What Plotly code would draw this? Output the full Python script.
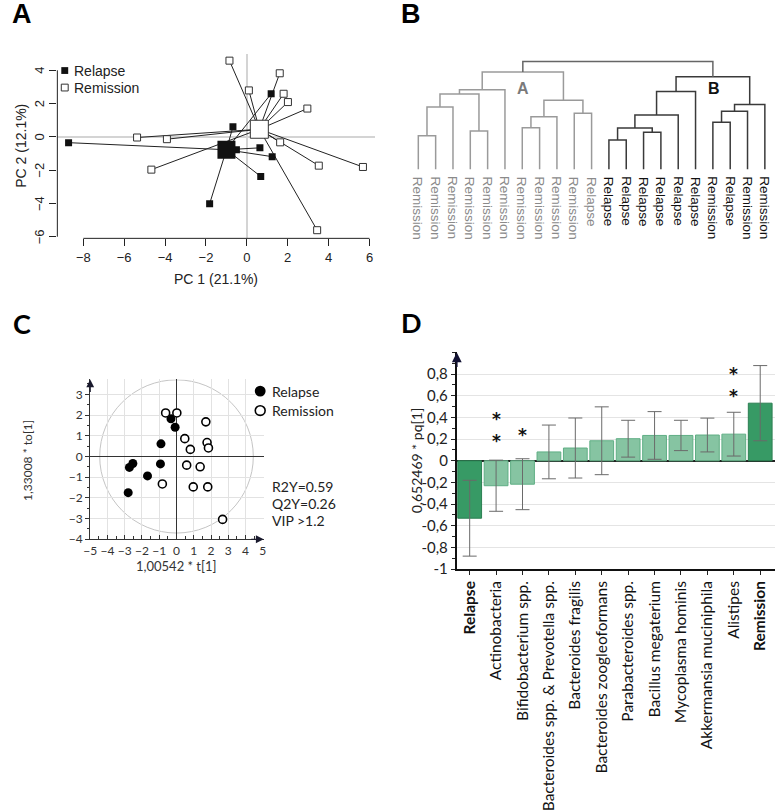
import plotly.graph_objects as go

W, H = 778, 811


def fx(px):
    return px / W


def fy(py):
    return 1 - py / H


SANS = "Liberation Sans, Arial, sans-serif"
CAL = "Lato, Open Sans, sans-serif"

# ---------------- Panel A : PCA spider plot ----------------
a_relapse_pc1 = [-8.72, -0.68, 1.19, 0.64, -0.51, 1.24, 0.68, -1.82]
a_relapse_pc2 = [-0.35, 0.60, 2.59, -0.66, -0.78, -1.19, -2.38, -4.02]
a_remission_pc1 = [-0.85, 1.61, 0.10, 1.80, 2.01, 2.96, -5.37, -3.91, 1.63, -4.67, 3.52, 5.68, 3.44]
a_remission_pc2 = [4.58, 3.82, 2.79, 2.59, 2.09, 1.70, -0.04, -0.14, -0.33, -1.97, -1.73, -1.81, -5.61]
a_xticks = [-8, -6, -4, -2, 0, 2, 4, 6]
a_yticks = [-6, -4, -2, 0, 2, 4]

# ---------------- Panel B : dendrogram ----------------
b_labels = ["Remission"] * 10 + ["Relapse"] * 7 + ["Remission", "Relapse", "Remission", "Remission"]
b_label_group = ["A"] * 11 + ["B"] * 10
# merges: (child a, child b, height, group)  -- clusters numbered from 21
b_linkage = [
    (0, 1, 10.4, "A"), (21, 2, 19.3, "A"), (3, 4, 11.9, "A"), (22, 23, 23.3, "A"),
    (24, 5, 24.6, "A"), (6, 7, 12.9, "A"), (26, 8, 16.3, "A"), (9, 10, 17.4, "A"),
    (27, 28, 21.4, "A"), (25, 29, 30.1, "A"),
    (11, 12, 9.1, "B"), (13, 14, 11.5, "B"), (31, 32, 12.8, "B"), (33, 15, 16.8, "B"),
    (34, 16, 24.1, "B"), (17, 18, 14.6, "B"), (36, 19, 18.0, "B"), (37, 20, 20.1, "B"),
    (35, 38, 28.6, "B"), (30, 39, 33.3, "R"),
]

# ---------------- Panel C : OPLS-DA score plot ----------------
c_relapse_t = [-0.32, -0.08, -0.90, -0.93, -2.53, -2.73, -1.68, -2.80]
c_relapse_to = [1.82, 1.41, 0.61, -0.36, -0.34, -0.53, -0.94, -1.75]
c_remission_t = [-0.63, 0.02, 1.70, 0.48, 1.77, 1.85, 0.80, 0.59, 1.37, -0.82, 0.97, 1.81, 2.67]
c_remission_to = [2.10, 2.10, 1.67, 0.86, 0.67, 0.41, 0.34, -0.42, -0.50, -1.33, -1.47, -1.47, -3.04]
c_ellipse_rx, c_ellipse_ry = 4.45, 3.70
c_stats = ["R2Y=0.59", "Q2Y=0.26", "VIP >1.2"]

# ---------------- Panel D : loadings bar chart ----------------
d_categories = ["Relapse", "Actinobacteria", "Bifidobacterium spp.",
                "Bacteroides spp. & Prevotella spp.", "Bacteroides fragilis",
                "Bacteroides zoogleoformans", "Parabacteroides spp.", "Bacillus megaterium",
                "Mycoplasma hominis", "Akkermansia muciniphila", "Alistipes", "Remission"]
d_values = [-0.53, -0.23, -0.216, 0.082, 0.118, 0.185, 0.204, 0.234, 0.234, 0.238, 0.246, 0.532]
d_errors = [0.35, 0.236, 0.235, 0.248, 0.277, 0.313, 0.17, 0.22, 0.14, 0.156, 0.202, 0.347]
d_is_class = [True] + [False] * 10 + [True]
d_stars = {"Actinobacteria": ("*<br>*", 0.28), "Bifidobacterium spp.": ("*", 0.24),
           "Alistipes": ("*<br>*", 0.70)}
d_yticks = [-1, -0.8, -0.6, -0.4, -0.2, 0, 0.2, 0.4, 0.6, 0.8]
d_yticktext = [("%g" % v).replace(".", ",") for v in d_yticks]

fig = go.Figure()
shapes = []
ann = []


def ptext(text, x, y, size, family, color="#222", xanchor="center", yanchor="middle", angle=0):
    ann.append(dict(text=text, x=fx(x), y=fy(y), xref="paper", yref="paper", xanchor=xanchor,
                    yanchor=yanchor, textangle=angle, showarrow=False,
                    font=dict(family=family, size=size, color=color)))


# ---- Panel A traces ----
cx_rel = sum(a_relapse_pc1) / len(a_relapse_pc1)
cy_rel = sum(a_relapse_pc2) / len(a_relapse_pc2)
cx_rem = sum(a_remission_pc1) / len(a_remission_pc1)
cy_rem = sum(a_remission_pc2) / len(a_remission_pc2)
lx, ly = [], []
for x, y in zip(a_relapse_pc1, a_relapse_pc2):
    lx += [cx_rel, x, None]
    ly += [cy_rel, y, None]
for x, y in zip(a_remission_pc1, a_remission_pc2):
    lx += [cx_rem, x, None]
    ly += [cy_rem, y, None]
fig.add_trace(go.Scatter(x=lx, y=ly, mode="lines", line=dict(color="#222", width=1),
                         xaxis="x", yaxis="y", showlegend=False, hoverinfo="skip"))
fig.add_trace(go.Scatter(x=a_relapse_pc1, y=a_relapse_pc2, mode="markers",
                         marker=dict(symbol="square", size=7, color="#111", line=dict(width=0)),
                         xaxis="x", yaxis="y", showlegend=False))
fig.add_trace(go.Scatter(x=a_remission_pc1, y=a_remission_pc2, mode="markers",
                         marker=dict(symbol="square", size=7, color="white", line=dict(width=1, color="#333")),
                         xaxis="x", yaxis="y", showlegend=False))
fig.add_trace(go.Scatter(x=[cx_rel], y=[cy_rel], mode="markers",
                         marker=dict(symbol="square", size=18, color="#111", line=dict(width=0)),
                         xaxis="x", yaxis="y", showlegend=False))
fig.add_trace(go.Scatter(x=[cx_rem], y=[cy_rem], mode="markers",
                         marker=dict(symbol="square", size=18, color="white", line=dict(width=1, color="#333")),
                         xaxis="x", yaxis="y", showlegend=False))
shapes.append(dict(type="line", xref="x", yref="y domain", x0=min(a_xticks), x1=max(a_xticks),
                   y0=0, y1=0, line=dict(color="#222", width=1)))
shapes.append(dict(type="line", xref="x domain", yref="y", x0=0, x1=0, y0=min(a_yticks),
                   y1=max(a_yticks), line=dict(color="#222", width=1)))
for v in a_yticks:
    ann.append(dict(text=str(v).replace("-", "\u2212"), x=fx(33), y=v, xref="paper", yref="y",
                    xanchor="center", yanchor="middle", textangle=-90, showarrow=False,
                    font=dict(family=SANS, size=13, color="#222")))
# legend A
shapes.append(dict(type="rect", xref="paper", yref="paper", x0=fx(55), x1=fx(62), y0=fy(76), y1=fy(69),
                   fillcolor="#111", line=dict(width=0)))
shapes.append(dict(type="rect", xref="paper", yref="paper", x0=fx(55), x1=fx(62), y0=fy(93.5), y1=fy(86.5),
                   fillcolor="white", line=dict(width=1, color="#333")))
ptext("Relapse", 66, 72.5, 14, SANS, xanchor="left")
ptext("Remission", 66, 90, 14, SANS, xanchor="left")
ptext("PC 1 (21.1%)", 212, 287, 14, SANS)
ptext("PC 2 (12.1%)", 14, 150, 14, SANS, angle=-90)

# ---- Panel B dendrogram ----
pos = {i: (float(i), 0.0) for i in range(len(b_labels))}
seg = {"A": ([], []), "B": ([], []), "R": ([], [])}
for k, (a, b, h, g) in enumerate(b_linkage):
    xa, ha = pos[a]
    xb, hb = pos[b]
    seg[g][0].extend([xa, xa, xb, xb, None])
    seg[g][1].extend([ha, h, h, hb, None])
    pos[len(b_labels) + k] = ((xa + xb) / 2, h)
seg_colors = {"A": "#9a9a9a", "B": "#3a3a3a", "R": "#666666"}
for g in ["A", "B", "R"]:
    fig.add_trace(go.Scatter(x=seg[g][0], y=seg[g][1], mode="lines",
                             line=dict(color=seg_colors[g], width=1.5),
                             xaxis="x2", yaxis="y2", showlegend=False, hoverinfo="skip"))
for i, (lab, g) in enumerate(zip(b_labels, b_label_group)):
    ann.append(dict(text=lab, x=i, y=0, xref="x2", yref="y2", textangle=90, xanchor="center",
                    yanchor="top", yshift=-5, showarrow=False,
                    font=dict(family=SANS, size=13.5, color="#8a8a8a" if g == "A" else "#111")))
ptext("<b>A</b>", 523, 91, 16, SANS, color="#7a7a7a")
ptext("<b>B</b>", 716, 91, 16, SANS, color="#111")

# ---- Panel C ----
shapes.append(dict(type="circle", xref="x3", yref="y3", x0=-c_ellipse_rx, x1=c_ellipse_rx,
                   y0=-c_ellipse_ry, y1=c_ellipse_ry, line=dict(color="#c4c4c4", width=1), layer="below"))
fig.add_trace(go.Scatter(x=c_relapse_t, y=c_relapse_to, mode="markers",
                         marker=dict(symbol="circle", size=9, color="#000", line=dict(width=0)),
                         xaxis="x3", yaxis="y3", showlegend=False))
fig.add_trace(go.Scatter(x=c_remission_t, y=c_remission_to, mode="markers",
                         marker=dict(symbol="circle", size=8, color="white", line=dict(width=1.6, color="#000")),
                         xaxis="x3", yaxis="y3", showlegend=False))
shapes.append(dict(type="circle", xref="paper", yref="paper", x0=fx(251), x1=fx(262), y0=fy(407.5), y1=fy(396.5),
                   fillcolor="#000", line=dict(width=0)))
shapes.append(dict(type="circle", xref="paper", yref="paper", x0=fx(251.5), x1=fx(261.5), y0=fy(427), y1=fy(417),
                   fillcolor="white", line=dict(width=1.6, color="#000")))
ptext("Relapse", 266, 402, 14, CAL, xanchor="left")
ptext("Remission", 266, 422, 14, CAL, xanchor="left")
for i, s in enumerate(c_stats):
    ptext(s, 266, 500 + 17.5 * i, 14, CAL, xanchor="left")
ptext("1,00542 * t[1]", 172, 582, 13, CAL, color="#333")
ptext("1,33008 * to[1]", 20, 473, 12, CAL, color="#333", angle=-90)
# axis arrows
ann.append(dict(x=0, y=1, xref="x3 domain", yref="y3 domain", ax=0, ay=14, text="", showarrow=True,
                arrowhead=2, arrowsize=1.3, arrowwidth=1.2, arrowcolor="#1a1a2e", standoff=0))
ann.append(dict(x=1, y=0, xref="x3 domain", yref="y3 domain", ax=-14, ay=0, text="", showarrow=True,
                arrowhead=2, arrowsize=1.3, arrowwidth=1.2, arrowcolor="#1a1a2e", standoff=0))

# ---- Panel D ----
dark_fill, light_fill = "#379a65", "#86c4a2"
dark_line, light_line = "#2b7f52", "#5fae84"
fig.add_trace(go.Bar(x=d_categories, y=d_values,
                     error_y=dict(type="data", array=d_errors, color="#6a6a6a", thickness=1, width=7),
                     marker=dict(color=[dark_fill if c else light_fill for c in d_is_class],
                                 line=dict(color=[dark_line if c else light_line for c in d_is_class], width=1)),
                     width=0.9, xaxis="x4", yaxis="y4", showlegend=False))
for cat, (txt, yv) in d_stars.items():
    ann.append(dict(text="<b>%s</b>" % txt, x=cat, y=yv, xref="x4", yref="y4", showarrow=False,
                    yanchor="middle", xanchor="center",
                    font=dict(family="DejaVu Sans", size=17, color="#111")))
ann.append(dict(x=0, y=1, xref="x4 domain", yref="y4 domain", ax=0, ay=16, text="", showarrow=True,
                arrowhead=2, arrowsize=1.3, arrowwidth=1.5, arrowcolor="#111133", standoff=0))
ptext("0,652469 * pq[1]", 415, 473.5, 14, CAL, angle=-90)

# panel letters
for t, x, y, fam in [("A", 15, 14, SANS), ("B", 409, 14, SANS), ("C", 15, 333, CAL), ("D", 410, 331, CAL)]:
    ptext("<b>%s</b>" % t, x, y, 27, fam, color="#000")

d_ticktext = ["<b>%s</b>" % c if cls else c for c, cls in zip(d_categories, d_is_class)]

fig.update_layout(
    width=W, height=H, margin=dict(l=0, r=0, t=0, b=0),
    paper_bgcolor="white", plot_bgcolor="rgba(0,0,0,0)",
    showlegend=False, bargap=0.1,
    xaxis=dict(domain=[fx(51), fx(373)], range=[-9.27, 6.28], anchor="y",
               tickvals=a_xticks, ticks="outside", ticklen=7, tickcolor="#222",
               tickfont=dict(family=SANS, size=13, color="#222"), showgrid=False,
               zeroline=True, zerolinecolor="#d4d4d4", zerolinewidth=1.5, showline=False),
    yaxis=dict(domain=[fy(245), fy(56)], range=[-6.1, 4.95], anchor="x",
               tickvals=a_yticks, ticks="outside", ticklen=7, tickcolor="#222", showticklabels=False,
               showgrid=False,
               zeroline=True, zerolinecolor="#d4d4d4", zerolinewidth=1.5, showline=False),
    xaxis2=dict(domain=[fx(407.9), fx(776.5)], range=[-0.5, 20.5], anchor="y2", visible=False),
    yaxis2=dict(domain=[fy(174.3), fy(55)], range=[0, 35.8], anchor="x2", visible=False),
    xaxis3=dict(domain=[fx(84.3), fx(260)], range=[-5, 5.05], anchor="y3", dtick=1, tick0=0,
                ticks="inside", ticklen=4, tickcolor="#333",
                minor=dict(dtick=0.5, ticks="inside", ticklen=3, tickcolor="#333", showgrid=False),
                tickfont=dict(family=CAL, size=12, color="#333"),
                showgrid=True, gridcolor="#e2e2e2", gridwidth=1,
                zeroline=True, zerolinecolor="#333", zerolinewidth=1.3,
                showline=True, linecolor="#333", linewidth=1.3),
    yaxis3=dict(domain=[fy(554.3), fy(390)], range=[-4, 3.72], anchor="x3", dtick=1, tick0=0,
                ticks="outside", ticklen=4, tickcolor="#333",
                minor=dict(dtick=0.5, ticks="outside", ticklen=2.5, tickcolor="#333", showgrid=False),
                tickfont=dict(family=CAL, size=12, color="#333"),
                showgrid=True, gridcolor="#e2e2e2", gridwidth=1,
                zeroline=True, zerolinecolor="#333", zerolinewidth=1.3,
                showline=True, linecolor="#333", linewidth=1.3),
    xaxis4=dict(domain=[fx(455.7), 1.0], range=[-0.486, 11.56], anchor="y4",
                tickmode="array", tickvals=d_categories, ticktext=d_ticktext, tickangle=-90,
                ticks="outside", ticklen=4, tickcolor="#222",
                tickfont=dict(family=CAL, size=15.5, color="#111"), showgrid=False,
                showline=True, linecolor="#111", linewidth=1.5),
    yaxis4=dict(domain=[fy(585), fy(362.3)], range=[-1, 1.0], anchor="x4",
                tickvals=d_yticks, ticktext=d_yticktext, ticks="outside", ticklen=4, tickcolor="#222",
                minor=dict(dtick=0.1, ticks="outside", ticklen=2.5, tickcolor="#222", showgrid=False),
                tickfont=dict(family=CAL, size=15, color="#222"),
                showgrid=True, gridcolor="#e4e4e4", gridwidth=1,
                zeroline=True, zerolinecolor="#222", zerolinewidth=1.5,
                showline=True, linecolor="#111", linewidth=2),
    shapes=shapes, annotations=ann,
)

fig.write_html("out.html", config={"displayModeBar": False},
               post_script="document.body.style.margin='0';")
